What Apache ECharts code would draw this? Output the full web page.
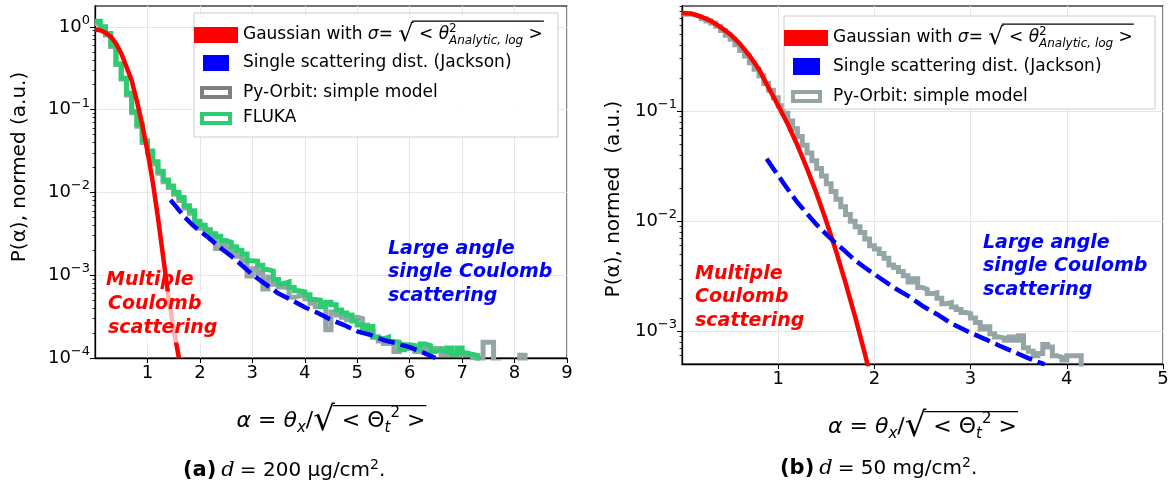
<!DOCTYPE html>
<html><head><meta charset="utf-8">
<script src="https://cdn.jsdelivr.net/npm/echarts@6/dist/echarts.min.js"></script>
<style>html,body{margin:0;padding:0;background:#fff}#c{width:1170px;height:487px}</style>
</head><body><div id="c"></div>
<script>
// ---------------- DATA ----------------
// Left panel (a): d = 200 ug/cm2, histogram bins of width 0.1 starting at alpha = 0
const leftBinWidth = 0.1;
const leftFlukaP = [1.17,1.0,0.83,0.60,0.355,0.24,0.158,0.095,0.066,0.042,
  0.0316,0.0234,0.018,0.0141,0.012,0.010,0.0087,0.0069,0.006,0.0045,
  0.004,0.00355,0.00316,0.00295,0.00263,0.0025,0.0022,0.002,0.0018,0.0015,
  0.00148,0.00132,0.00117,0.00112,0.00089,0.00079,0.00083,0.00071,0.00065,0.00063,
  0.00058,0.00051,0.0005,0.00042,0.00047,0.00044,0.00038,0.00035,0.00033,0.00028,
  0.00025,0.000204,0.00024,0.000178,0.00017,0.000178,0.000158,0.000155,0.000126,0.000145,
  0.000141,0.000126,0.000148,0.000141,0.00012,0.000126,0.00012,0.000132,0.000112,0.000132,
  0.000115,0.00011,0.000107,0];
const leftPyOrbitP = [1.10,0.97,0.80,0.58,0.35,0.235,0.15,0.092,0.063,0.040,
  0.030,0.022,0.017,0.0135,0.0115,0.0095,0.0080,0.0065,0.0056,0.0042,
  0.0037,0.0032,0.0028,0.0021,0.0023,0.0021,0.0019,0.0017,0.0015,0.00098,
  0.0012,0.00105,0.00068,0.00095,0.00078,0.00072,0.0007,0.00054,0.00056,0.0006,
  0.00052,0.00046,0.00042,0.00045,0.00022,0.00036,0.00033,0.00031,0.00029,0.00031,
  0.00030,0.00025,0.00021,0.00018,0.00016,0.00015,0.00015,0.00012,0.00014,0.00013,
  0.00013,0.00012,0.00014,0.00012,0.00013,0.00013,0.00011,0.00012,0.00011,0.00012,
  0.00011,0.00011,0.0001,0.00009,0.000155,0.000155,0.00009,0,0,0,
  0,0.000108,0];
const leftGaussAlpha = [0,0.1,0.2,0.3,0.4,0.5,0.6,0.7,0.8,0.9,1.0,1.1,1.2,1.3,1.4,1.5,1.6];
const leftGaussP = [0.93,0.91,0.85,0.76,0.63,0.48,0.33,0.224,0.126,0.066,0.0316,0.0135,0.0050,0.00166,0.00056,0.000224,0.0001];
const leftJacksonAlpha = [1.44,1.55,1.7,1.85,2.0,2.15,2.3,2.45,2.6,2.8,3.0,3.25,3.5,3.75,4.0,4.25,4.5,4.75,5.0,5.25,5.5,5.75,6.0,6.25,6.49];
const leftJacksonP = [0.0081,0.0067,0.0051,0.0041,0.0034,0.0029,0.0024,0.002,0.0017,0.00132,0.00102,0.00078,0.0006,0.0005,0.00041,0.00035,0.00029,0.00025,0.00021,0.00019,0.000165,0.00015,0.000135,0.000117,0.0001];
const leftXTicks = [1,2,3,4,5,6,7,8,9];
const leftYDecades = [-4,-3,-2,-1,0];

// Right panel (b): d = 50 mg/cm2, histogram bins of width 0.05 starting at alpha = 0
const rightBinWidth = 0.05;
const rightPyOrbitP = [0.76,0.76,0.74,0.72,0.69,0.66,0.63,0.59,0.54,0.49,
  0.45,0.40,0.355,0.316,0.275,0.24,0.21,0.178,0.155,0.132,
  0.112,0.0955,0.0813,0.0692,0.0589,0.049,0.0417,0.0355,0.0302,0.0257,
  0.0219,0.0186,0.0158,0.0135,0.0115,0.0100,0.0089,0.0079,0.0069,0.0060,
  0.0056,0.0051,0.0046,0.0040,0.0038,0.0035,0.0032,0.0028,0.0030,0.0025,
  0.0024,0.0022,0.00224,0.0020,0.00178,0.00182,0.00166,0.00158,0.00148,0.00145,
  0.00132,0.0012,0.00105,0.0011,0.00095,0.00089,0.00087,0.00083,0.00089,0.00083,
  0.00091,0.00071,0.00066,0.0006,0.00063,0.00076,0.00072,0.0006,0.00058,0.00055,
  0.0006,0.0006,0.0006,0];
const rightGaussAlpha = [0,0.1,0.2,0.3,0.4,0.5,0.6,0.7,0.8,0.9,1.0,1.1,1.2,1.3,1.4,1.5,1.6,1.7,1.8,1.9,2.0];
const rightGaussP = [0.78,0.77,0.72,0.66,0.58,0.50,0.41,0.32,0.24,0.163,0.112,0.076,0.049,0.030,0.0178,0.010,0.0054,0.00275,0.00135,0.00063,0.00028];
const rightJacksonAlpha = [0.88,0.95,1.0,1.1,1.2,1.3,1.4,1.5,1.6,1.7,1.8,1.9,2.0,2.2,2.35,2.5,2.65,2.8,3.0,3.15,3.3,3.45,3.6,3.77];
const rightJacksonP = [0.037,0.030,0.026,0.0195,0.0148,0.0117,0.0093,0.0076,0.0063,0.0053,0.0044,0.0038,0.0033,0.0025,0.0021,0.0017,0.00143,0.00118,0.00097,0.00085,0.00074,0.00065,0.00057,0.0005];
const rightXTicks = [1,2,3,4,5];
const rightYDecades = [-3,-2,-1];

// ---------------- helpers ----------------
const FLOOR = -6; // empty bins drawn below the axis (clipped)
const lg = v => (v > 0 ? Math.log10(v) : FLOOR);
const histData = (vals, w) => vals.map((v, i) => [i * w, lg(v)]);
const curveData = (xs, ys) => xs.map((x, i) => [x, lg(ys[i])]);
function minorTicks(lo, hi) {
  const out = [];
  for (let k = Math.floor(lo) - 1; k <= Math.ceil(hi); k++)
    for (let m = 2; m <= 9; m++) { const v = Math.log10(m) + k; if (v >= lo - 1e-9 && v <= hi + 1e-9) out.push(v); }
  return out;
}
const FONT = 'DejaVu Sans';
const _ctx = document.createElement('canvas').getContext('2d');
const tw = (font, s) => { _ctx.font = font; return _ctx.measureText(s).width; };
const F = (size, style, weight) => (style || 'normal') + ' ' + (weight || 'normal') + ' ' + size + 'px "DejaVu Sans"';

const supRich = {
  b: { fontFamily: FONT, fontSize: 18, lineHeight: 26, color: '#000' },
  s: { fontFamily: FONT, fontSize: 13, lineHeight: 14, verticalAlign: 'top', color: '#000' }
};
const expLabel = v => '{b|10}{s|' + (v === 0 ? '0' : '\u2212' + Math.abs(v)) + '}';

// x-axis title: alpha = theta_x / sqrt(<Theta_t^2>)
const XN = 22, XSQ = 34, XSUB = 15;
const xNameRich = {
  n: { fontFamily: FONT, fontSize: XN, lineHeight: 30, color: '#000' },
  i: { fontFamily: FONT, fontSize: XN, lineHeight: 30, fontStyle: 'italic', color: '#000' },
  sq: { fontFamily: FONT, fontSize: XSQ, lineHeight: 30, color: '#000' },
  sub: { fontFamily: FONT, fontSize: XSUB, lineHeight: 16, fontStyle: 'italic', verticalAlign: 'bottom', color: '#000' },
  sup: { fontFamily: FONT, fontSize: XSUB, lineHeight: 15, verticalAlign: 'top', color: '#000' }
};
const xName = '{i|\u03b1}{n| = }{i|\u03b8}{sub|x}{n|/}{sq|\u221a}{n| < \u0398}{sub|t}{sup|2}{n| >}';
const xPre = tw(F(XN, 'italic'), '\u03b1') + tw(F(XN), ' = ') + tw(F(XN, 'italic'), '\u03b8') + tw(F(XSUB, 'italic'), 'x') + tw(F(XN), '/') + tw(F(XSQ), '\u221a');
const xPost = tw(F(XN), ' < \u0398') + tw(F(XSUB), '2') + tw(F(XSUB, 'italic'), 't') + tw(F(XN), ' >');
const xTot = xPre + xPost;
const X_GAP = 48;

function xAxisDef(grid, max, ticks) {
  return {
    type: 'value', gridIndex: grid, min: 0, max: max, interval: 1,
    axisLine: { show: true, onZero: false, lineStyle: { color: '#000', width: 1.3 } },
    axisTick: { show: true, customValues: ticks, length: 5, lineStyle: { color: '#000', width: 1 } },
    axisLabel: { customValues: ticks, margin: 6, color: '#000', fontFamily: FONT, fontSize: 18 },
    splitLine: { show: true, lineStyle: { color: '#e6e6e6', width: 1 } },
    name: xName, nameLocation: 'middle', nameGap: X_GAP,
    nameTextStyle: { rich: xNameRich }
  };
}
function yMajor(grid, min, max, decades, name, gap, pad) {
  return {
    type: 'value', gridIndex: grid, min: min, max: max, position: 'left',
    axisLine: { show: true, onZero: false, lineStyle: { color: '#000', width: 1.3 } },
    axisTick: { show: true, customValues: decades, length: 5, lineStyle: { color: '#000', width: 1 } },
    axisLabel: { customValues: decades, margin: 5, formatter: expLabel, rich: supRich },
    splitLine: { show: true, customValues: decades, lineStyle: { color: '#e6e6e6', width: 1 } },
    name: name, nameLocation: 'middle', nameGap: gap,
    nameTextStyle: { fontFamily: FONT, fontSize: 20, color: '#000', padding: pad }
  };
}
function yMinor(grid, min, max) {
  return {
    type: 'value', gridIndex: grid, min: min, max: max, position: 'left', offset: 0,
    axisLine: { show: false },
    axisTick: { show: true, customValues: minorTicks(min, max), length: 2.5, lineStyle: { color: '#000', width: 0.8 } },
    axisLabel: { show: false }, splitLine: { show: false }
  };
}

const RED = '#ff0000', BLUE = '#0000ff', GREEN = '#2ecc71', GREY = '#95a5a6';
const stepSeries = (name, x, y, data, color) => ({
  name, type: 'line', xAxisIndex: x, yAxisIndex: y, data, step: 'end', showSymbol: false, symbol: 'none',
  lineStyle: { color, width: 5, join: 'miter' }, clip: true, animation: false, silent: true
});
const curve = (name, x, y, data, color, dashed) => ({
  name, type: 'line', xAxisIndex: x, yAxisIndex: y, data, showSymbol: false, symbol: 'none', smooth: false,
  lineStyle: dashed ? { color, width: 4.5, type: [17, 6], cap: 'butt', join: 'round' } : { color, width: 4.5, join: 'round' },
  clip: true, animation: false, silent: true, z: 4
});

const LMIN = -4, LMAX = 0.252, RMIN = -3.297, RMAX = -0.045;
const G0 = { left: 95, top: 6, width: 472, height: 352 };
const G1 = { left: 682, top: 6, width: 481, height: 358 };

// legend text with sigma formula
const LN = 17, LSQ = 24, LSUB = 12;
const legendRich = {
  n: { fontFamily: FONT, fontSize: LN, lineHeight: 24, fill: '#000' },
  i: { fontFamily: FONT, fontSize: LN, lineHeight: 24, fontStyle: 'italic', fill: '#000' },
  sq: { fontFamily: FONT, fontSize: LSQ, lineHeight: 18, verticalAlign: 'top', fill: '#000' },
  sup: { fontFamily: FONT, fontSize: LSUB, lineHeight: 12, verticalAlign: 'top', width: 0.01, align: 'left', fill: '#000' },
  sub: { fontFamily: FONT, fontSize: LSUB, lineHeight: 12, verticalAlign: 'bottom', fontStyle: 'italic', fill: '#000' }
};
const gaussLabel = '{n|Gaussian with }{i|\u03c3}{n|= }{sq|\u221a}{n| < }{i|\u03b8}{sup|2}{sub|Analytic, log}{n| >}';
const gPre = tw(F(LN), 'Gaussian with ') + tw(F(LN, 'italic'), '\u03c3') + tw(F(LN), '= ') + tw(F(LSQ), '\u221a');
const gPost = tw(F(LN), ' < ') + tw(F(LN, 'italic'), '\u03b8') + 0.01 + tw(F(LSUB, 'italic'), 'Analytic, log') + tw(F(LN), ' >');
const gOverY = c => c - 12 + 9 - 0.45 * LSQ; // top of the radical glyph

const txt = (x, y, text) => ({ type: 'text', x, y, z: 60, style: { text, fill: '#000', fontFamily: FONT, fontSize: LN, verticalAlign: 'middle', align: 'left' } });
const richTxt = (x, y, text) => ({ type: 'text', x, y, z: 60, style: { text, rich: legendRich, verticalAlign: 'middle', align: 'left' } });
const rect = (x, y, w, h, style, z) => ({ type: 'rect', z: z || 55, shape: { x, y, width: w, height: h }, style });
const hline = (x1, x2, y) => ({ type: 'line', z: 61, shape: { x1, y1: y, x2, y2: y }, style: { stroke: '#000', lineWidth: 1.3 } });
const annot = (x, y, text, color, bg) => ({
  type: 'text', x, y, z: 50, style: {
    text, fill: color, fontFamily: FONT, fontSize: 19, fontWeight: 'bold', fontStyle: 'italic', lineHeight: 23.5,
    verticalAlign: 'top', align: 'left', backgroundColor: bg ? 'rgba(255,255,255,0.7)' : null, padding: bg ? [1, 2, 3, 2] : 0
  }
});
const capRich = {
  b: { fontFamily: FONT, fontWeight: 'bold', fontSize: 21, lineHeight: 26, color: '#000' },
  i: { fontFamily: 'DejaVu Serif', fontStyle: 'italic', fontWeight: 'normal', fontSize: 21, lineHeight: 26, color: '#000' },
  n: { fontFamily: FONT, fontWeight: 'normal', fontSize: 20, lineHeight: 26, color: '#000' },
  s: { fontFamily: FONT, fontWeight: 'normal', fontSize: 14, lineHeight: 14, verticalAlign: 'top', color: '#000' }
};

// positions of the sqrt bars on the axis titles
function xBar(g) {
  const axisY = g.top + g.height;
  const cx = g.left + g.width / 2, cy = axisY + X_GAP + 15;
  const x0 = cx - xTot / 2 + xPre - 2;
  return hline(x0, cx + xTot / 2 + 1, cy - 0.45 * XSQ);
}

const option = {
  backgroundColor: '#fff',
  animation: false,
  grid: [
    Object.assign({ show: true, borderColor: '#444', borderWidth: 1.3, outerBoundsMode: 'none' }, G0),
    Object.assign({ show: true, borderColor: '#444', borderWidth: 1.3, outerBoundsMode: 'none' }, G1)
  ],
  xAxis: [xAxisDef(0, 9, leftXTicks), xAxisDef(1, 5, rightXTicks)],
  yAxis: [
    yMajor(0, LMIN, LMAX, leftYDecades, 'P(\u03b1), normed (a.u.)', 65, [0, 0, 0, 30]),
    yMinor(0, LMIN, LMAX),
    yMajor(1, RMIN, RMAX, rightYDecades, 'P(\u03b1), normed  (a.u.)', 58, [0, 28, 0, 0]),
    yMinor(1, RMIN, RMAX)
  ],
  title: [
    { left: 178, top: 453, text: '{b|(a)} {i|d} {n|= 200 \u03bcg/cm}{s|2}{n|.}', textStyle: { fontWeight: 'normal', rich: capRich } },
    { left: 775, top: 451, text: '{b|(b)} {i|d} {n|= 50 mg/cm}{s|2}{n|.}', textStyle: { fontWeight: 'normal', rich: capRich } }
  ],
  series: [
    stepSeries('Py-Orbit: simple model', 0, 0, histData(leftPyOrbitP, leftBinWidth), GREY),
    stepSeries('FLUKA', 0, 0, histData(leftFlukaP, leftBinWidth), GREEN),
    curve('Gaussian', 0, 0, curveData(leftGaussAlpha, leftGaussP), RED, false),
    curve('Single scattering dist. (Jackson)', 0, 0, curveData(leftJacksonAlpha, leftJacksonP), BLUE, true),
    stepSeries('Py-Orbit: simple model', 1, 2, histData(rightPyOrbitP, rightBinWidth), GREY),
    curve('Gaussian', 1, 2, curveData(rightGaussAlpha, rightGaussP), RED, false),
    curve('Single scattering dist. (Jackson)', 1, 2, curveData(rightJacksonAlpha, rightJacksonP), BLUE, true)
  ],
  graphic: [
    // left legend
    rect(194, 13, 364, 124, { fill: 'rgba(255,255,255,0.85)', stroke: '#cccccc', lineWidth: 1 }, 52),
    rect(194, 27, 44, 16, { fill: RED }),
    rect(203, 55, 26, 16, { fill: BLUE }),
    rect(202, 88, 28, 9, { fill: '#fff', stroke: '#808080', lineWidth: 4 }),
    rect(202, 114, 28, 9, { fill: '#fff', stroke: GREEN, lineWidth: 4 }),
    richTxt(243, 35, gaussLabel),
    txt(243, 63, 'Single scattering dist. (Jackson)'),
    txt(243, 93, 'Py-Orbit: simple model'),
    txt(243, 118, 'FLUKA'),
    hline(243 + gPre - 1.5, 243 + gPre + gPost + 1, gOverY(35)),
    // right legend
    rect(784, 16, 371, 93, { fill: 'rgba(255,255,255,0.85)', stroke: '#cccccc', lineWidth: 1 }, 52),
    rect(784, 30, 44, 16, { fill: RED }),
    rect(793, 58, 27, 17, { fill: BLUE }),
    rect(793, 92, 27, 9, { fill: '#fff', stroke: GREY, lineWidth: 4 }),
    richTxt(833, 38, gaussLabel),
    txt(833, 67, 'Single scattering dist. (Jackson)'),
    txt(833, 97, 'Py-Orbit: simple model'),
    hline(833 + gPre - 1.5, 833 + gPre + gPost + 1, gOverY(38)),
    // sqrt bars of the axis titles
    xBar(G0),
    xBar(G1),
    // annotations
    annot(106, 268, 'Multiple', RED, false),
    annot(106, 291.5, 'Coulomb\nscattering', RED, true),
    annot(388, 237, 'Large angle\nsingle Coulomb\nscattering', BLUE, false),
    annot(695, 262, 'Multiple\nCoulomb\nscattering', RED, false),
    annot(983, 231, 'Large angle\nsingle Coulomb\nscattering', BLUE, false)
  ]
};
const chart = echarts.init(document.getElementById('c'), null, { renderer: 'canvas' });
chart.setOption(option);
</script></body></html>
